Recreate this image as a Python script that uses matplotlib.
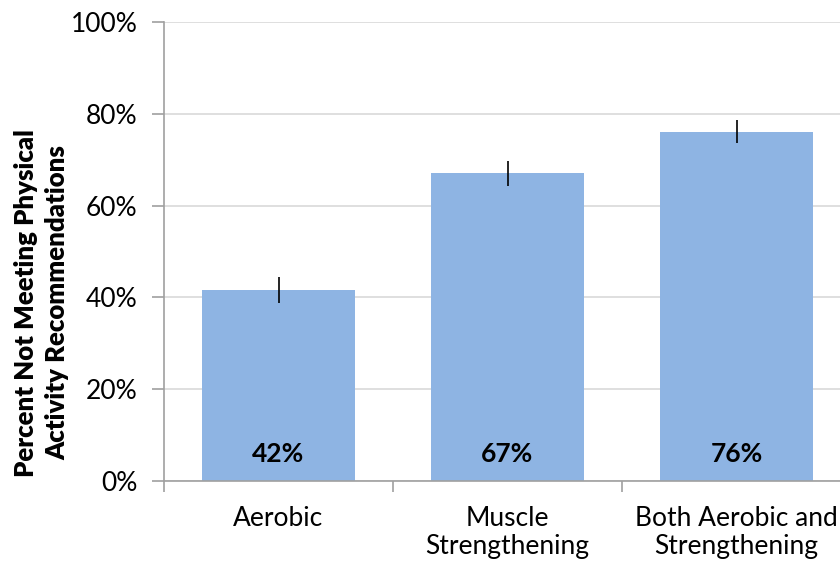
import matplotlib
matplotlib.use("Agg")
import matplotlib.pyplot as plt
from matplotlib.ticker import FixedLocator, PercentFormatter

categories = ["Aerobic", "Muscle\nStrengthening", "Both Aerobic and\nStrengthening"]
percent_not_meeting = [41.6, 67.0, 76.1]
error_half = [2.9, 2.7, 2.5]
y_ticks = [0, 20, 40, 60, 80, 100]

plt.rcParams["font.family"] = ["Lato", "DejaVu Sans"]

fig = plt.figure(figsize=(8.4, 5.68), dpi=100)
# plot area runs a little past the right edge, as in the original
ax = fig.add_axes([164 / 840, 87 / 568, 687 / 840, 459 / 568])

x = list(range(len(categories)))
ax.bar(x, percent_not_meeting, width=0.665, color="#8EB4E3", zorder=2)
ax.errorbar(x, percent_not_meeting, yerr=error_half, fmt="none",
            ecolor="black", elinewidth=1.2, capsize=0, zorder=3)

for xi, v in zip(x, percent_not_meeting):
    ax.text(xi, 3.2, f"{round(v)}%", ha="center", va="bottom",
            fontsize=19, fontweight="bold", zorder=4)

ax.set_xlim(-0.5, 2.5)
ax.set_ylim(0, 100)
ax.set_yticks(y_ticks)
ax.yaxis.set_major_formatter(PercentFormatter(decimals=0))
ax.yaxis.grid(True, color="#D9D9D9", linewidth=1.2, zorder=0)
ax.set_axisbelow(True)

ax.set_xticks(x)
ax.set_xticklabels(categories, linespacing=1.15)
ax.xaxis.set_minor_locator(FixedLocator([-0.5, 0.5, 1.5, 2.5]))
ax.tick_params(axis="x", which="major", length=0, pad=18, labelsize=19)
ax.tick_params(axis="x", which="minor", length=8, color="#A0A0A0", width=1.2)
ax.tick_params(axis="y", length=9, color="#A0A0A0", width=1.2, pad=10, labelsize=19)

for side in ["top", "right"]:
    ax.spines[side].set_visible(False)
for side in ["left", "bottom"]:
    ax.spines[side].set_color("#A0A0A0")
    ax.spines[side].set_linewidth(1.2)

fig.text(42 / 840, (568 - 303) / 568,
         "Percent Not Meeting Physical\nActivity Recommendations",
         rotation=90, ha="center", va="center", fontsize=18.5,
         fontweight="heavy", linespacing=1.35)

fig.savefig("out.png", dpi=100)
